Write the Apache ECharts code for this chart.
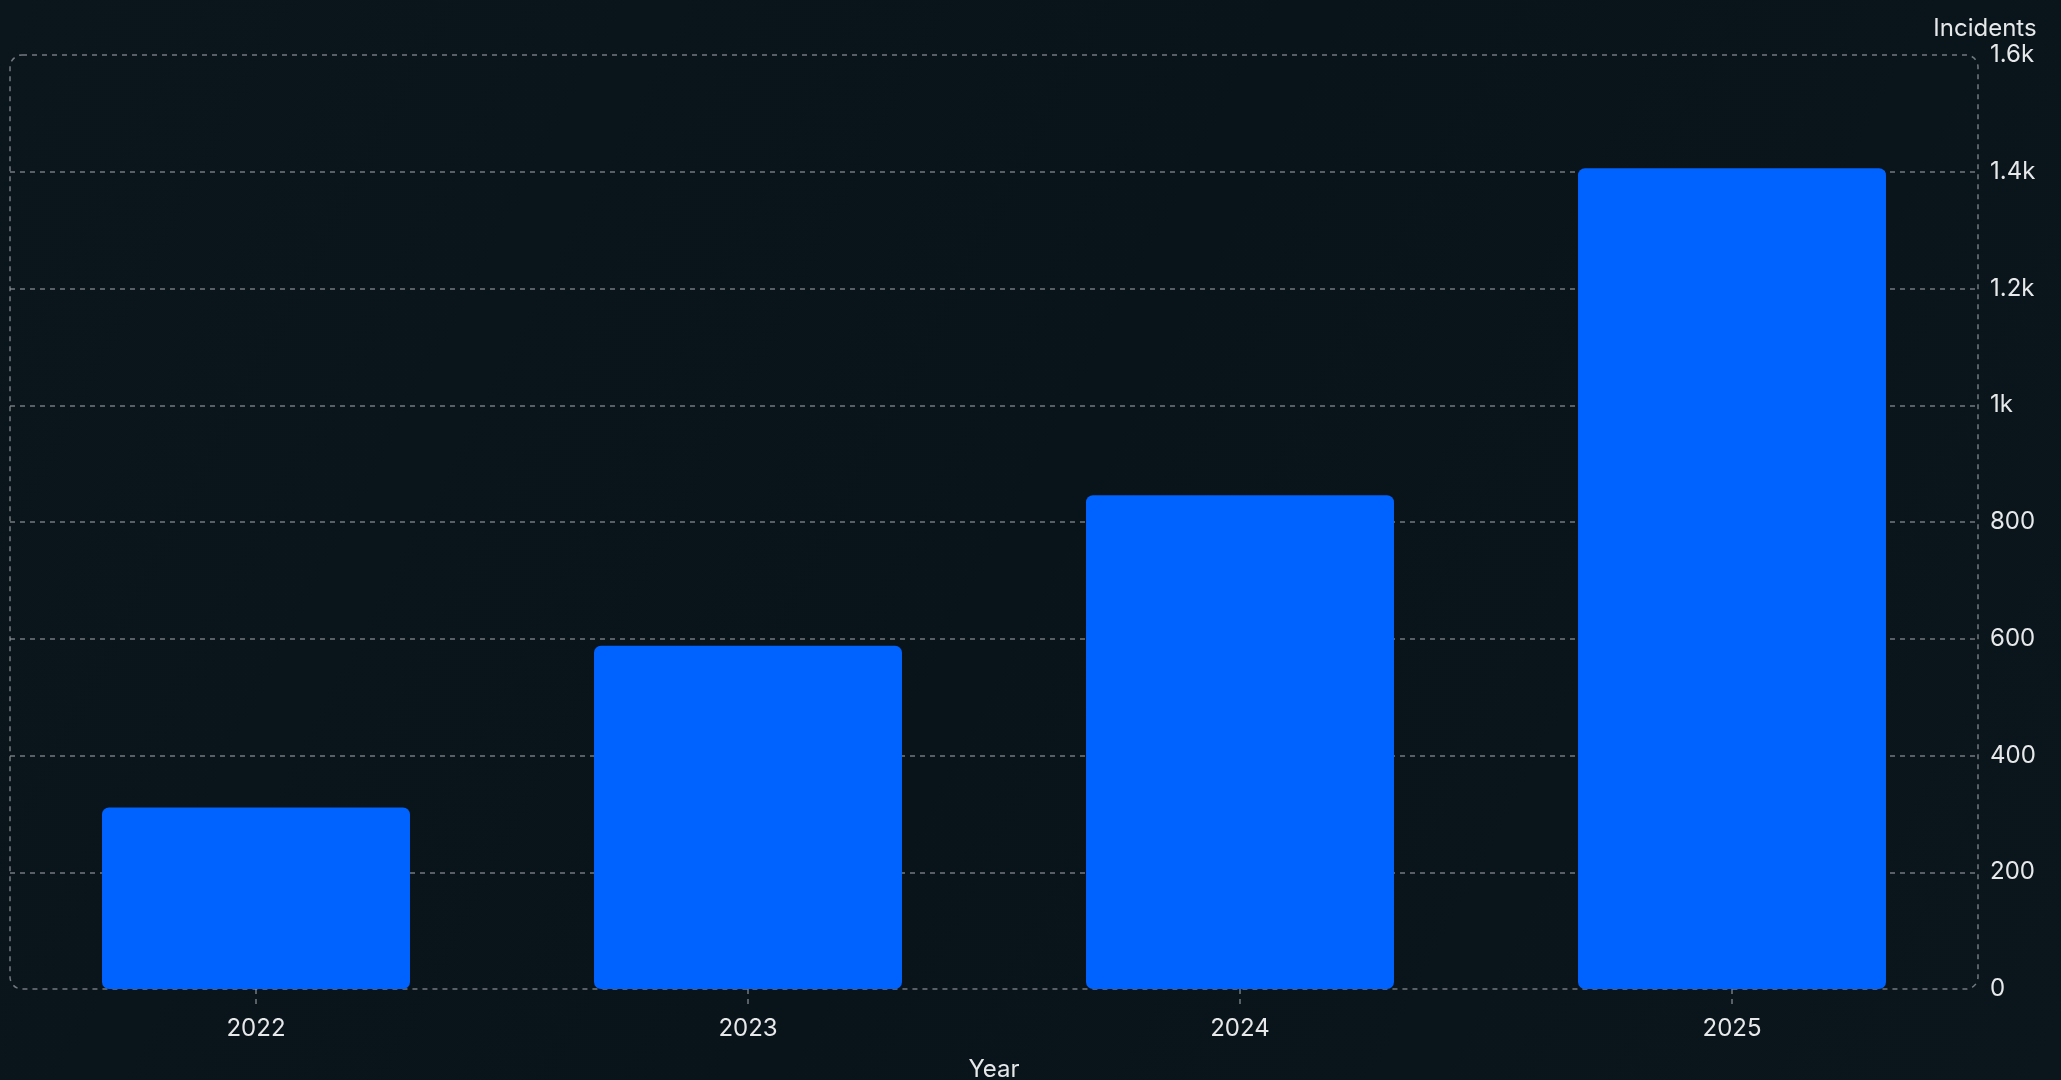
<!DOCTYPE html>
<html>
<head>
<meta charset="utf-8">
<script src="https://cdn.jsdelivr.net/npm/echarts@6/dist/echarts.min.js"></script>
<style>
html,body{margin:0;padding:0;background:#0a141a;}
#chart{width:2061px;height:1080px;}
</style>
</head>
<body>
<div id="chart"></div>
<script>
const years = ['2022', '2023', '2024', '2025'];
const incidents = [311, 588, 846, 1406];
const yTicks = { min: 0, max: 1600, interval: 200 };

const G = { left: 10, top: 55, right: 83, bottom: 91 };
const W = 2061, H = 1080;
const textColor = '#e6e8ea';
const lineColor = 'rgba(150,155,160,0.75)';
const font = 'Inter, "Noto Sans", sans-serif';
const fs = 24;

const chart = echarts.init(document.getElementById('chart'), null, { renderer: 'canvas' });
chart.setOption({
  backgroundColor: {
    type: 'linear', x: 0, y: 0, x2: 1, y2: 1,
    colorStops: [{ offset: 0, color: '#0b161c' }, { offset: 0.5, color: '#09131a' }, { offset: 1, color: '#0a161c' }]
  },
  animation: false,
  textStyle: { fontFamily: font },
  grid: { left: G.left, top: G.top, right: G.right, bottom: G.bottom, containLabel: false, outerBoundsMode: 'none' },
  graphic: [{
    type: 'rect', z: 0, silent: true,
    shape: { x: G.left, y: G.top, width: W - G.left - G.right, height: H - G.top - G.bottom, r: [12, 12, 12, 12] },
    style: { fill: 'none', stroke: lineColor, lineWidth: 1.5, lineDash: [5, 5] }
  }],
  xAxis: {
    type: 'category',
    data: years,
    name: 'Year',
    nameLocation: 'middle',
    nameGap: 69,
    nameTextStyle: { color: textColor, fontSize: fs, fontFamily: font },
    axisLine: { show: false },
    axisTick: { show: true, alignWithLabel: true, length: 16, lineStyle: { color: lineColor, width: 1.5, type: [5, 5] } },
    axisLabel: { color: textColor, fontSize: fs, margin: 28, fontFamily: font },
    splitLine: { show: false }
  },
  yAxis: {
    type: 'value',
    position: 'right',
    min: yTicks.min, max: yTicks.max, interval: yTicks.interval,
    name: 'Incidents',
    nameLocation: 'end',
    nameGap: 14,
    nameTextStyle: { color: textColor, fontSize: fs, fontFamily: font, padding: [0, 0, 0, 14] },
    axisLine: { show: false },
    axisTick: { show: false },
    axisLabel: {
      color: textColor, fontSize: fs, margin: 12, fontFamily: font,
      formatter: v => v >= 1000 ? (v / 1000) + 'k' : String(v)
    },
    splitLine: { show: true, showMinLine: false, showMaxLine: false, lineStyle: { color: lineColor, width: 1.5, type: [5, 5] } }
  },
  series: [{
    type: 'bar',
    data: incidents,
    barWidth: '62.6%',
    z: 3,
    itemStyle: { color: '#0062ff', borderRadius: 7 }
  }]
});
</script>
</body>
</html>
